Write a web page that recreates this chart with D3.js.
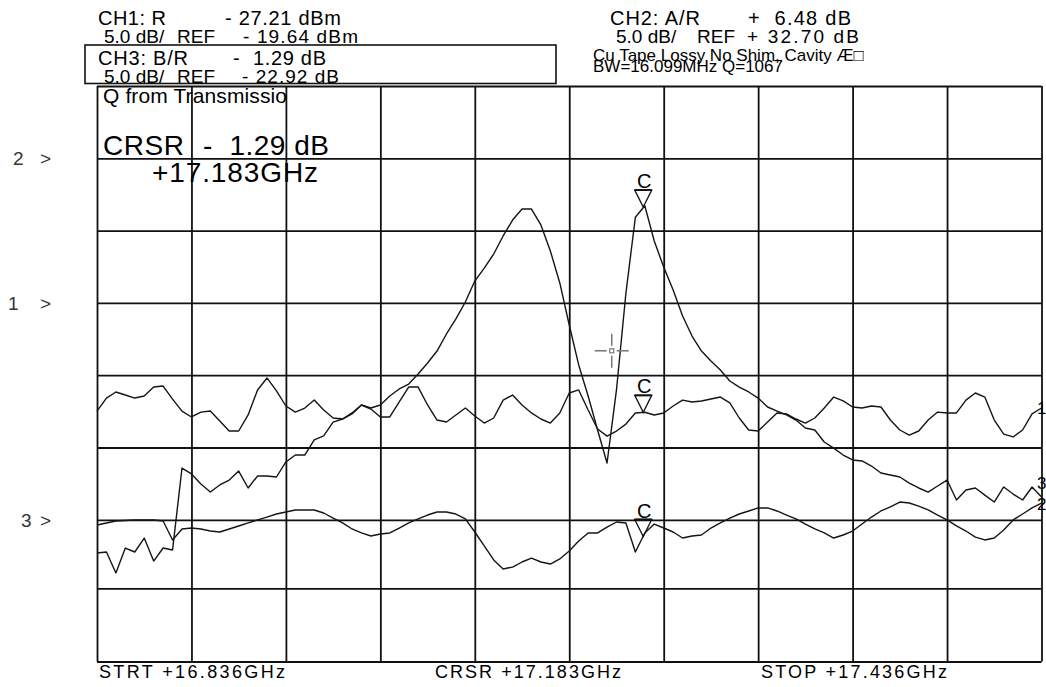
<!DOCTYPE html>
<html>
<head>
<meta charset="utf-8">
<script src="https://cdn.jsdelivr.net/npm/d3@7"></script>
<style>
  body { margin: 0; background: #fff; }
  svg { display: block; }
  text { font-family: "Liberation Sans", Arial, sans-serif; fill: #000; }
</style>
</head>
<body>
<svg id="chart" width="1046" height="687"></svg>
<script>
// ---- sweep ----
const startGHz = 16.836;
const stopGHz = 17.436;
const cursorGHz = 17.183;
const nPoints = 101;

// ---- channel set-up (CH1, CH2, CH3) ----
const channelIds = ["1", "2", "3"];
const channelParams = ["R", "A/R", "B/R"];
const channelUnits = ["dBm", "dB", "dB"];
const refValues = [-19.64, 32.70, -22.92];
const refDivisions = [5, 7, 2];          // reference line, divisions above the bottom
const dbPerDiv = 5.0;
const cursorReadouts = [-27.21, 6.48, -1.29];

// ---- traces ----
// CH1: R (dBm)
const ch1 = [-27.12,-26.22,-25.80,-26.01,-26.22,-26.08,-25.46,-25.39,-26.29,-27.12,
  -27.53,-27.19,-27.12,-27.81,-28.50,-28.50,-27.39,-25.66,-24.83,-25.73,
  -26.77,-27.19,-26.91,-26.36,-27.05,-27.60,-27.67,-27.25,-26.70,-26.98,
  -27.53,-27.53,-26.49,-25.46,-25.46,-26.70,-27.74,-27.88,-27.39,-26.91,
  -27.46,-27.95,-27.60,-26.36,-26.01,-26.70,-27.25,-27.67,-27.95,-27.25,
  -25.87,-25.66,-27.05,-28.36,-28.85,-28.50,-28.02,-27.25,-27.20,-27.39,
  -27.25,-26.77,-26.36,-26.49,-26.42,-26.29,-26.15,-26.56,-27.60,-28.43,
  -28.50,-27.88,-27.25,-27.32,-27.67,-27.95,-27.60,-26.91,-26.15,-26.42,
  -26.84,-26.91,-26.77,-26.84,-27.74,-28.43,-28.78,-28.50,-27.74,-27.19,
  -27.25,-27.25,-26.36,-25.87,-26.15,-27.74,-28.71,-28.91,-28.43,-27.32,
  -26.91];
// CH2: A/R (dB)
const ch2 = [7.32,7.47,7.61,7.65,7.69,7.69,7.69,7.61,6.23,7.03,
  7.10,7.03,6.88,6.81,7.03,7.25,7.47,7.69,7.89,8.10,
  8.24,8.38,8.38,8.38,8.17,7.82,7.47,7.03,6.74,6.52,
  6.66,6.74,7.10,7.47,7.76,8.03,8.24,8.24,8.10,7.76,
  6.81,5.79,4.77,4.11,4.25,4.62,4.91,4.62,4.47,4.84,
  5.42,6.15,6.74,6.74,7.17,7.54,7.47,5.35,6.74,7.39,
  7.10,6.81,6.37,6.52,6.59,7.10,7.47,7.82,8.10,8.31,
  8.52,8.52,8.31,8.03,7.76,7.39,7.03,6.74,6.37,6.59,
  6.88,7.39,7.89,8.31,8.59,8.93,8.86,8.65,8.38,8.03,
  7.69,7.25,6.88,6.44,6.23,6.37,6.96,7.69,8.10,8.52,
  8.86];
// CH3: B/R (dB) - transmission through the cavity
const ch3 = [-25.34,-25.27,-26.80,-24.98,-25.27,-24.25,-25.93,-24.98,-25.12,-19.34,
  -19.75,-20.44,-21.00,-20.51,-20.17,-19.55,-20.72,-19.89,-19.89,-19.96,
  -18.92,-18.44,-18.44,-17.40,-17.12,-16.16,-15.95,-15.60,-14.98,-15.19,
  -14.98,-14.36,-13.87,-13.53,-12.84,-12.08,-11.25,-10.07,-9.03,-7.86,
  -6.41,-5.51,-4.54,-3.29,-2.19,-1.43,-1.43,-2.53,-4.33,-6.54,
  -9.45,-12.21,-14.36,-16.71,-18.99,-13.94,-7.24,-2.00,-1.20,-3.64,
  -5.44,-7.03,-8.83,-10.21,-11.25,-11.94,-12.56,-13.32,-13.74,-14.08,
  -14.50,-15.12,-15.40,-15.67,-16.02,-16.57,-16.71,-17.54,-17.96,-18.44,
  -18.78,-18.85,-19.20,-19.68,-19.82,-19.96,-20.38,-20.72,-21.00,-20.58,
  -20.17,-21.55,-20.86,-20.72,-21.21,-21.69,-20.65,-21.14,-21.55,-20.65,
  -21.34];
const traces = [ch1, ch2, ch3];

// ---- annotation text ----
const titleLine = "Q from Transmissio";
const noteLines = ["Cu Tape Lossy No Shim, Cavity \u00C6\u25A1", "BW=16.099MHz Q=1067"];
const freqLabels = ["STRT +16.836GHz", "CRSR +17.183GHz", "STOP +17.436GHz"];
const pointerGHz = 17.163, pointerDb = -11.23;   // screen pointer, on CH3 scale

// ---- layout ----
const plotLeft = 97, plotRight = 1041.5;
const rowLines = [661.5, 588.3, 519.8, 447.5, 375.2, 302.9, 230.6, 158.3, 86]; // division 0..8
const plotTop = rowLines[8], plotBottom = rowLines[0];

const svg = d3.select("#chart");
const x = d3.scaleLinear().domain([startGHz, stopGHz]).range([plotLeft, plotRight]);
const divY = d3.scaleLinear().domain(d3.range(9)).range(rowLines);
const yScales = refValues.map((ref, k) =>
  d3.scaleLinear()
    .domain(d3.range(9).map(d => ref + (d - refDivisions[k]) * dbPerDiv))
    .range(rowLines));
const freqs = d3.range(nPoints).map(i => startGHz + i * (stopGHz - startGHz) / (nPoints - 1));

const ink = "#111";

// ---- graticule: 10 x 8 divisions ----
const gridFreqs = d3.range(11).map(j => startGHz + j * (stopGHz - startGHz) / 10);
svg.append("g")
  .attr("transform", `translate(0,${plotBottom})`)
  .call(d3.axisBottom(x).tickValues(gridFreqs).tickSize(-(plotBottom - plotTop)).tickFormat(""))
  .call(g => g.select(".domain").remove())
  .call(g => g.selectAll("line").attr("stroke", ink).attr("stroke-width", 1.8));
svg.append("g")
  .attr("transform", `translate(${plotLeft},0)`)
  .call(d3.axisLeft(divY).tickValues(d3.range(9)).tickSize(-(plotRight - plotLeft)).tickFormat(""))
  .call(g => g.select(".domain").remove())
  .call(g => g.selectAll("line").attr("stroke", ink).attr("stroke-width", 1.8));

// ---- traces ----
traces.forEach((vals, k) => {
  const line = d3.line().x((d, i) => x(freqs[i])).y(d => yScales[k](d));
  svg.append("path")
    .attr("d", line(vals))
    .attr("fill", "none")
    .attr("stroke", "#151515")
    .attr("stroke-width", 1.4)
    .attr("stroke-linejoin", "round");
});

// ---- cursor markers ----
cursorReadouts.forEach((v, k) => {
  const px = x(cursorGHz), py = yScales[k](v);
  svg.append("path")
    .attr("d", `M${px - 8.5},${py - 17}L${px + 8.5},${py - 17}L${px},${py}Z`)
    .attr("fill", "none").attr("stroke", ink).attr("stroke-width", 1.3);
  svg.append("line")
    .attr("x1", px - 8.5).attr("x2", px + 8.5).attr("y1", py - 17).attr("y2", py - 17)
    .attr("stroke", ink).attr("stroke-width", 2);
  svg.append("text").attr("x", px + 1).attr("y", py - 19)
    .attr("text-anchor", "middle").attr("font-size", 20).text("C");
});

// ---- screen pointer ----
{
  const px = x(pointerGHz), py = yScales[2](pointerDb);
  const g = svg.append("g").attr("stroke", "#7a7a7a").attr("stroke-width", 1.6).attr("fill", "none");
  [[-17, -5, 0, 0], [5, 17, 0, 0], [0, 0, -17, -5], [0, 0, 5, 17]].forEach(s =>
    g.append("line").attr("x1", px + s[0]).attr("x2", px + s[1]).attr("y1", py + s[2]).attr("y2", py + s[3]));
  g.append("rect").attr("x", px - 2).attr("y", py - 2).attr("width", 4).attr("height", 4).attr("stroke-width", 1.2);
}

// ---- reference position labels ----
const refLabelX = [8, 13, 21];
channelIds.forEach((id, k) => {
  const yy = divY(refDivisions[k]) + 7;
  svg.append("text").attr("x", refLabelX[k]).attr("y", yy).attr("font-size", 19).style("fill", "#333").text(id);
  svg.append("text").attr("x", 40).attr("y", yy).attr("font-size", 19).style("fill", "#333").text(">");
});

// ---- trace-end labels ----
const endLabelY = [414, 510, 489];
channelIds.forEach((id, k) => {
  svg.append("text").attr("x", 1037).attr("y", endLabelY[k]).attr("font-size", 17).text(id);
});

// ---- readout blocks ----
function fmt(v) {
  return (v < 0 ? "-" : "+") + " " + Math.abs(v).toFixed(2).padStart(5, " ");
}
function put(str, xx, yy, size, width, adjust) {
  const t = svg.append("text").attr("x", xx).attr("y", yy).attr("font-size", size || 20)
    .attr("xml:space", "preserve").style("white-space", "pre").text(str);
  if (width) t.attr("textLength", width).attr("lengthAdjust", adjust || "spacing");
  return t;
}
// widths: [name, value, reference value]
function channelBlock(k, x0, y0, valX, refX, refValX, w) {
  put(`CH${channelIds[k]}: ${channelParams[k]}`, x0, y0, 20, w[0]);
  put(`${fmt(cursorReadouts[k])} ${channelUnits[k]}`, valX, y0, 20, w[1]);
  put(`${dbPerDiv.toFixed(1)} dB/`, x0 + 6, y0 + 17.5, 19);
  put("REF", refX, y0 + 17.5, 19);
  put(`${fmt(refValues[k])} ${channelUnits[k]}`, refValX, y0 + 17.5, 19, w[2]);
}
channelBlock(0, 98, 25, 225, 177, 243, [68, 116, 115]);
channelBlock(2, 98, 65, 233, 177, 242, [90, 93, 97]);
channelBlock(1, 610, 25, 748, 697, 747, [90, 103, 112]);

// active channel box
svg.append("rect").attr("x", 85).attr("y", 45).attr("width", 471).attr("height", 38.5)
  .attr("fill", "none").attr("stroke", ink).attr("stroke-width", 1.6);

put(noteLines[0], 593, 61, 17);
put(noteLines[1], 593, 72, 17, 190);

put(titleLine, 103, 103, 21, 184);

// marker readout for the active channel
put("CRSR", 103, 155, 28, 81);
put(`${fmt(cursorReadouts[2])} ${channelUnits[2]}`, 203, 155, 28, 126);
put(`+${cursorGHz.toFixed(3)}GHz`, 152, 182, 28, 166);

// frequency annotation
const freqLabelX = [99, 435, 761];
freqLabels.forEach((s, i) => put(s, freqLabelX[i], 677.5, 18, 186));
</script>
</body>
</html>
